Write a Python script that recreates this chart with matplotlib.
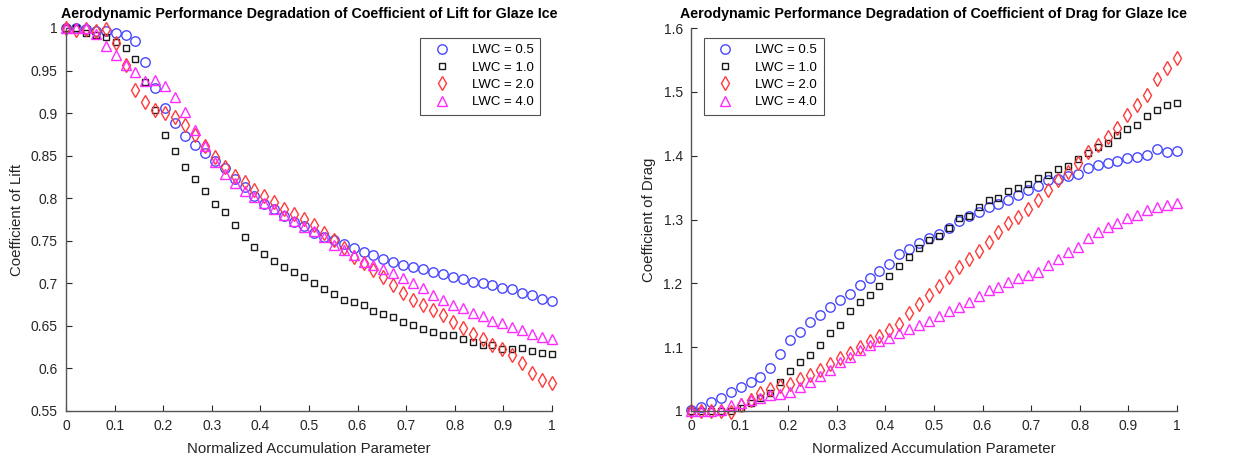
import numpy as np
import matplotlib
matplotlib.use("Agg")
import matplotlib.pyplot as plt

plt.rcParams['font.family'] = ['Liberation Sans', 'DejaVu Sans']

x = np.linspace(0, 1, 50)
labels = ["LWC = 0.5", "LWC = 1.0", "LWC = 2.0", "LWC = 4.0"]

cl_05 = [1.0, 1.0, 0.999, 0.997, 0.996, 0.9945, 0.992, 0.985, 0.960, 0.929,
         0.906, 0.888, 0.873, 0.862, 0.853, 0.844, 0.835, 0.823, 0.8135, 0.803,
         0.793, 0.787, 0.779, 0.772, 0.767, 0.759, 0.755, 0.751, 0.746, 0.742,
         0.737, 0.733, 0.729, 0.725, 0.722, 0.719, 0.717, 0.713, 0.711, 0.707,
         0.705, 0.702, 0.700, 0.698, 0.695, 0.693, 0.689, 0.686, 0.682, 0.679]
cl_10 = [1.0, 1.0, 0.9945, 0.992, 0.989, 0.983, 0.976, 0.963, 0.937, 0.904,
         0.874, 0.856, 0.837, 0.823, 0.808, 0.793, 0.784, 0.768, 0.754, 0.743,
         0.734, 0.726, 0.7195, 0.713, 0.707, 0.700, 0.693, 0.688, 0.681, 0.678,
         0.674, 0.667, 0.664, 0.661, 0.655, 0.651, 0.646, 0.643, 0.639, 0.639,
         0.635, 0.631, 0.627, 0.627, 0.623, 0.623, 0.624, 0.621, 0.618, 0.617]
cl_20 = [1.0, 0.998, 0.999, 0.996, 0.999, 0.982, 0.957, 0.927, 0.913, 0.904,
         0.900, 0.895, 0.886, 0.874, 0.861, 0.849, 0.8365, 0.8265, 0.819, 0.810,
         0.803, 0.796, 0.787, 0.782, 0.776, 0.7685, 0.759, 0.751, 0.742, 0.731,
         0.7235, 0.716, 0.707, 0.6975, 0.689, 0.680, 0.6745, 0.669, 0.663, 0.655,
         0.648, 0.640, 0.635, 0.627, 0.6225, 0.616, 0.606, 0.595, 0.586, 0.583]
cl_40 = [1.0, 1.0, 1.0, 0.993, 0.979, 0.968, 0.9565, 0.948, 0.938, 0.939,
         0.932, 0.919, 0.901, 0.880, 0.861, 0.843, 0.829, 0.8175, 0.809, 0.801,
         0.794, 0.787, 0.780, 0.773, 0.7665, 0.761, 0.754, 0.745, 0.739, 0.733,
         0.7255, 0.7215, 0.717, 0.712, 0.706, 0.700, 0.694, 0.686, 0.680, 0.6745,
         0.671, 0.6655, 0.662, 0.656, 0.653, 0.649, 0.645, 0.640, 0.637, 0.635]

cd_05 = [1.001, 1.006, 1.014, 1.021, 1.029, 1.037, 1.045, 1.054, 1.068, 1.089,
         1.111, 1.123, 1.139, 1.151, 1.163, 1.174, 1.184, 1.197, 1.209, 1.220,
         1.231, 1.246, 1.254, 1.263, 1.271, 1.278, 1.286, 1.298, 1.306, 1.311,
         1.320, 1.325, 1.331, 1.339, 1.346, 1.353, 1.362, 1.364, 1.368, 1.372,
         1.381, 1.385, 1.389, 1.391, 1.397, 1.398, 1.401, 1.410, 1.406, 1.408]
cd_10 = [1.0, 1.0, 1.0, 1.0, 1.0, 1.004, 1.012, 1.020, 1.028, 1.046,
         1.062, 1.077, 1.088, 1.103, 1.122, 1.135, 1.156, 1.170, 1.181, 1.196,
         1.2115, 1.227, 1.242, 1.255, 1.268, 1.274, 1.286, 1.302, 1.306, 1.320,
         1.331, 1.334, 1.344, 1.350, 1.356, 1.365, 1.370, 1.379, 1.384, 1.394,
         1.404, 1.414, 1.420, 1.432, 1.441, 1.448, 1.462, 1.472, 1.479, 1.483]
cd_20 = [1.0, 1.0, 1.0, 1.0, 0.999, 1.010, 1.018, 1.028, 1.034, 1.039,
         1.043, 1.050, 1.057, 1.064, 1.073, 1.083, 1.091, 1.101, 1.109, 1.117,
         1.127, 1.137, 1.153, 1.167, 1.181, 1.196, 1.210, 1.225, 1.238, 1.251,
         1.265, 1.281, 1.294, 1.304, 1.316, 1.331, 1.346, 1.362, 1.375, 1.389,
         1.406, 1.417, 1.430, 1.443, 1.464, 1.479, 1.495, 1.520, 1.538, 1.5525]
cd_40 = [1.0, 1.0, 1.0, 1.002, 1.010, 1.013, 1.018, 1.021, 1.0245, 1.027,
         1.029, 1.0375, 1.0455, 1.055, 1.064, 1.076, 1.085, 1.0955, 1.1035, 1.110,
         1.115, 1.1225, 1.129, 1.134, 1.1405, 1.149, 1.1565, 1.163, 1.1715, 1.1805,
         1.190, 1.195, 1.2015, 1.2085, 1.213, 1.218, 1.229, 1.238, 1.249, 1.257,
         1.2705, 1.280, 1.288, 1.294, 1.302, 1.307, 1.315, 1.319, 1.3225, 1.326]

xticks = [0, 0.1, 0.2, 0.3, 0.4, 0.5, 0.6, 0.7, 0.8, 0.9, 1]
xticklabels = ["0", "0.1", "0.2", "0.3", "0.4", "0.5", "0.6", "0.7", "0.8", "0.9", "1"]
yticks_l = [0.55, 0.6, 0.65, 0.7, 0.75, 0.8, 0.85, 0.9, 0.95, 1]
yticklabels_l = ["0.55", "0.6", "0.65", "0.7", "0.75", "0.8", "0.85", "0.9", "0.95", "1"]
yticks_r = [1, 1.1, 1.2, 1.3, 1.4, 1.5, 1.6]
yticklabels_r = ["1", "1.1", "1.2", "1.3", "1.4", "1.5", "1.6"]

styles = [
    dict(marker='o', color='#4848ff', ms=6.8, mew=1.0),
    dict(marker='s', color='#1a1a1a', ms=4.2, mew=1.0),
    dict(marker='d', color='#ff3a3a', ms=7.0, mew=1.0),
    dict(marker='^', color='#ff2aff', ms=6.8, mew=1.0),
]

W, H = 1236, 459
fig = plt.figure(figsize=(W / 100, H / 100), dpi=100)
axL = fig.add_axes([66 / W, 1 - 411 / H, 486 / W, 383 / H])
axR = fig.add_axes([691 / W, 1 - 411 / H, 486 / W, 383 / H])

axc = '#262626'
legloc_anchor = {'upper right': (0.976, 0.975), 'upper left': (0.026, 0.975)}

def setup(ax, series, yt, ytl, ylim, title, ylabel, legloc):
    for s, st, lab in zip(series, styles, labels):
        ax.plot(x, s, linestyle='none', marker=st['marker'], markersize=st['ms'],
                markerfacecolor='none', markeredgecolor=st['color'],
                markeredgewidth=st['mew'], label=lab, clip_on=False)
    ax.set_xlim(0, 1)
    ax.set_ylim(*ylim)
    ax.set_xticks(xticks)
    ax.set_xticklabels(xticklabels)
    ax.set_yticks(yt)
    ax.set_yticklabels(ytl)
    ax.tick_params(direction='in', length=4, width=0.8, colors=axc, labelsize=10,
                   labelcolor='#262626', pad=6)
    for sp in ['top', 'right']:
        ax.spines[sp].set_visible(False)
    for sp in ['left', 'bottom']:
        ax.spines[sp].set_color('#555555')
        ax.spines[sp].set_linewidth(1.0)
    ax.set_title(title, fontsize=10.3, fontweight='bold', pad=7, color='black')
    ax.set_xlabel('Normalized Accumulation Parameter', fontsize=10.8, color='#262626', labelpad=6)
    ax.set_ylabel(ylabel, fontsize=10.8, color='#262626', labelpad=5)
    leg = ax.legend(loc=legloc, fontsize=9.5, frameon=True, fancybox=False,
                    edgecolor='#262626', handletextpad=1.1, borderpad=0.5,
                    labelspacing=0.38, handlelength=2.3, borderaxespad=0.0,
                    bbox_to_anchor=legloc_anchor[legloc])
    leg.get_frame().set_linewidth(0.8)

setup(axL, [cl_05, cl_10, cl_20, cl_40], yticks_l, yticklabels_l, (0.55, 1.0),
      'Aerodynamic Performance Degradation of Coefficient of Lift for Glaze Ice',
      'Coefficient of Lift', 'upper right')
setup(axR, [cd_05, cd_10, cd_20, cd_40], yticks_r, yticklabels_r, (1.0, 1.6),
      'Aerodynamic Performance Degradation of Coefficient of Drag for Glaze Ice',
      'Coefficient of Drag', 'upper left')

fig.savefig('out.png', dpi=100)
